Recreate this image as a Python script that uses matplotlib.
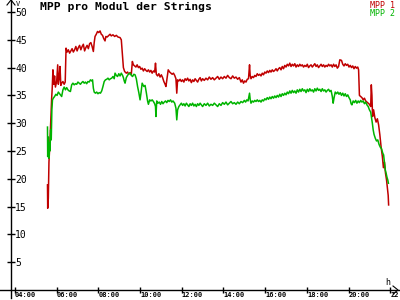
import matplotlib
matplotlib.use("Agg")
import matplotlib.pyplot as plt
from matplotlib.lines import Line2D

# ---- data (time in hours, MPP voltage per module in V) ----
t_mpp1 = [5.56, 5.57, 5.60, 5.63, 5.67, 5.71, 5.74, 5.76, 5.79, 5.82, 5.86, 5.90, 5.94, 6.00, 6.05, 6.08,
          6.12, 6.16, 6.20, 6.24, 6.30, 6.36, 6.41, 6.45, 6.50, 6.56, 6.62, 6.68, 6.74, 6.80, 6.86, 6.92,
          6.98, 7.04, 7.10, 7.16, 7.22, 7.28, 7.34, 7.40, 7.46, 7.52, 7.58, 7.64, 7.70, 7.76, 7.80, 7.84,
          7.90, 7.96, 8.02, 8.08, 8.14, 8.20, 8.26, 8.32, 8.36, 8.42, 8.50, 8.56, 8.62, 8.70, 8.78, 8.86,
          8.94, 9.04, 9.10, 9.15, 9.20, 9.26, 9.34, 9.40, 9.46, 9.52, 9.58, 9.63, 9.68, 9.74, 9.80, 9.86,
          9.92, 9.98, 10.04, 10.10, 10.16, 10.22, 10.28, 10.34, 10.40, 10.46, 10.52, 10.58, 10.64, 10.70,
          10.74, 10.78, 10.84, 10.90, 10.96, 11.02, 11.08, 11.14, 11.20, 11.24, 11.30, 11.35, 11.42, 11.48,
          11.54, 11.60, 11.66, 11.72, 11.76, 11.80, 11.86, 11.92, 11.98,
          12.04, 12.10, 12.16, 12.22, 12.28, 12.34, 12.40, 12.46, 12.52, 12.58, 12.64, 12.70, 12.76, 12.82,
          12.88, 12.94, 13.00, 13.08, 13.16, 13.24, 13.32, 13.40, 13.48, 13.56, 13.64, 13.72, 13.80, 13.88,
          13.96, 14.04, 14.12, 14.20, 14.28, 14.36, 14.44, 14.52, 14.60, 14.68, 14.76, 14.84, 14.90, 14.96,
          15.02, 15.08, 15.14, 15.20, 15.25, 15.28, 15.32, 15.38, 15.44, 15.50, 15.56, 15.62, 15.68, 15.74,
          15.80, 15.86, 15.92, 15.98, 16.04, 16.10, 16.16, 16.22, 16.28, 16.34, 16.40, 16.46, 16.52, 16.58,
          16.64, 16.70, 16.76, 16.82, 16.88, 16.94, 17.00, 17.06, 17.12, 17.18, 17.24, 17.30, 17.36, 17.42,
          17.48, 17.54, 17.60, 17.66, 17.72, 17.78, 17.84, 17.90, 17.96, 18.02, 18.08, 18.14, 18.20, 18.26,
          18.32, 18.38, 18.44, 18.50, 18.56, 18.62, 18.68, 18.74, 18.80, 18.86, 18.92, 18.98, 19.04, 19.10,
          19.16, 19.22, 19.28, 19.34, 19.40, 19.46, 19.52, 19.58, 19.66, 19.72, 19.78, 19.84, 19.90, 19.96,
          20.02, 20.08, 20.14, 20.20, 20.26, 20.32, 20.38, 20.44, 20.48, 20.52, 20.58, 20.64, 20.70, 20.76,
          20.82, 20.88, 20.94, 21.00, 21.06, 21.09, 21.12, 21.15, 21.20, 21.26, 21.32, 21.38, 21.44, 21.50,
          21.56, 21.62, 21.67, 21.72, 21.77, 21.82, 21.86, 21.90, 21.92]
v_mpp1 = [18.9, 14.7, 16.5, 23.0, 26.0, 30.0, 32.7, 34.5, 36.5, 39.6, 37.0, 38.5, 36.5, 37.5, 40.5, 37.0,
          38.0, 40.2, 36.8, 37.2, 37.5, 37.0, 37.4, 43.5, 42.8, 43.2, 42.6, 43.0, 43.4, 42.8, 43.2, 43.8,
          43.0, 43.6, 44.0, 43.2, 43.8, 44.2, 43.0, 43.6, 44.0, 43.4, 44.3, 44.5, 43.8, 42.9, 44.5, 45.6,
          46.0, 46.5, 46.3, 46.6, 46.0, 45.8, 45.2, 44.8, 45.6, 45.5, 45.8, 46.0, 45.7, 45.9, 45.6, 45.8,
          45.5, 45.4, 45.0, 42.6, 40.0, 39.3, 39.0, 39.2, 38.8, 39.1, 38.8, 41.1, 40.5, 40.3, 40.1, 40.5,
          40.0, 40.2, 39.7, 39.9, 39.4, 39.8, 39.5, 39.3, 39.6, 39.2, 39.5, 39.0, 39.4, 39.2,
          40.8, 38.8, 38.5, 38.9, 38.3, 38.7, 38.2, 37.5, 37.0, 36.6, 38.2, 39.6, 39.2, 39.0,
          38.8, 39.0, 38.6, 38.0, 35.4, 37.8, 37.6, 37.9, 37.5,
          37.8, 37.4, 38.0, 37.7, 38.1, 37.6, 37.9, 37.3, 37.8, 37.5, 38.0, 37.7, 37.4, 37.9,
          38.2, 37.6, 38.0, 37.7, 38.1, 37.8, 38.3, 37.9, 38.2, 37.8, 38.1, 38.4, 37.9, 38.3,
          38.0, 38.4, 38.1, 38.6, 38.2, 38.0, 38.5, 38.1, 38.3, 37.9, 38.2, 37.4, 37.8, 37.2,
          37.6, 37.4, 37.9, 38.0, 40.5, 38.6, 38.0, 38.4, 38.2, 38.6, 38.4, 38.9, 38.6, 38.8,
          38.5, 39.0, 38.7, 39.2, 39.0, 39.4, 39.1, 39.5, 39.2, 39.6, 39.3, 39.5, 39.8, 39.4,
          39.8, 40.0, 39.6, 40.2, 39.8, 40.4, 40.1, 40.6, 40.3, 40.8, 40.2, 40.6, 40.3, 40.7,
          40.1, 40.5, 40.2, 40.6, 40.3, 40.5, 40.1, 40.4, 40.2, 40.6, 40.0, 40.3, 40.5, 40.1,
          40.4, 40.7, 40.2, 40.5, 40.0, 40.3, 40.6, 40.2, 40.5, 40.1, 40.4, 40.2, 40.6, 40.3,
          40.5, 40.1, 40.6, 40.2, 40.5, 39.9, 40.2, 41.4, 41.3, 40.6, 40.3, 40.7, 40.4, 40.6,
          40.1, 40.4, 40.0, 40.3, 39.8, 40.2, 39.9, 40.1, 39.6, 35.0, 34.8, 34.6, 34.2, 34.5,
          34.0, 33.8, 33.6, 33.4, 33.0, 36.9, 35.0, 31.2, 32.4, 31.0, 30.2, 30.8, 29.7, 27.9,
          25.7, 24.0, 22.0, 23.0, 21.0, 19.8, 18.3, 17.0, 15.3]

t_mpp2 = [5.56, 5.57, 5.60, 5.62, 5.65, 5.68, 5.71, 5.74, 5.77, 5.80, 5.84, 5.90, 5.96, 6.02, 6.08, 6.14,
          6.20, 6.24, 6.30, 6.36, 6.42, 6.48, 6.54, 6.60, 6.66, 6.72, 6.78, 6.84, 6.90, 6.96, 7.02, 7.08,
          7.14, 7.20, 7.26, 7.32, 7.38, 7.44, 7.50, 7.56, 7.62, 7.68, 7.72, 7.76, 7.80, 7.86, 7.92, 7.98,
          8.04, 8.10, 8.16, 8.22, 8.28, 8.34, 8.40, 8.46, 8.52, 8.58, 8.64, 8.70, 8.76, 8.80, 8.86, 8.92,
          8.98, 9.04, 9.10, 9.16, 9.20, 9.24, 9.28, 9.34, 9.40, 9.46, 9.52, 9.58, 9.64, 9.70, 9.76, 9.82,
          9.88, 9.94, 10.00, 10.05, 10.10, 10.18, 10.24, 10.30, 10.36, 10.40, 10.46, 10.52, 10.58, 10.64,
          10.70, 10.74, 10.76, 10.80, 10.86, 10.92, 10.98, 11.04, 11.10, 11.16, 11.22, 11.28, 11.34, 11.40,
          11.46, 11.52, 11.58, 11.66, 11.72, 11.76, 11.80, 11.86, 11.92, 11.98,
          12.04, 12.10, 12.16, 12.22, 12.28, 12.34, 12.40, 12.46, 12.52, 12.58, 12.64, 12.70, 12.76, 12.82,
          12.88, 12.94, 13.00, 13.08, 13.16, 13.24, 13.32, 13.40, 13.48, 13.56, 13.64, 13.72, 13.80, 13.88,
          13.96, 14.04, 14.12, 14.20, 14.28, 14.36, 14.44, 14.52, 14.60, 14.68, 14.76, 14.84, 14.92, 15.00,
          15.06, 15.12, 15.18, 15.25, 15.28, 15.32, 15.38, 15.44, 15.50, 15.56, 15.62, 15.68, 15.74, 15.80,
          15.86, 15.92, 15.98, 16.04, 16.10, 16.16, 16.22, 16.28, 16.34, 16.40, 16.46, 16.52, 16.58, 16.64,
          16.70, 16.76, 16.82, 16.88, 16.94, 17.00, 17.06, 17.12, 17.18, 17.24, 17.30, 17.36, 17.42, 17.48,
          17.54, 17.60, 17.66, 17.72, 17.78, 17.84, 17.90, 17.96, 18.02, 18.08, 18.14, 18.20, 18.26, 18.32,
          18.38, 18.44, 18.50, 18.56, 18.62, 18.68, 18.74, 18.80, 18.86, 18.92, 18.98, 19.04, 19.10, 19.16,
          19.22, 19.26, 19.30, 19.36, 19.42, 19.48, 19.54, 19.60, 19.66, 19.72, 19.78, 19.84, 19.90, 19.96,
          20.02, 20.08, 20.12, 20.16, 20.22, 20.28, 20.34, 20.40, 20.46, 20.52, 20.58, 20.64, 20.70, 20.76,
          20.82, 20.88, 20.94, 21.00, 21.06, 21.10, 21.14, 21.18, 21.22, 21.28, 21.34, 21.40, 21.46, 21.52,
          21.58, 21.64, 21.68, 21.72, 21.76, 21.80, 21.84, 21.88, 21.91]
v_mpp2 = [29.3, 24.0, 27.5, 23.7, 26.5, 25.0, 28.8, 27.0, 32.4, 34.2, 34.5, 34.8, 35.2, 35.0, 35.6, 35.3,
          35.0, 34.8, 36.0, 36.5, 36.0, 36.4, 36.0, 35.8, 35.7, 36.9, 37.2, 36.9, 37.1, 37.0, 37.4, 37.2,
          37.0, 37.3, 37.5, 37.2, 37.4, 37.1, 37.5, 37.4, 37.8, 37.6, 37.8, 36.3, 35.6, 35.4, 35.6, 35.3,
          35.5, 35.4, 35.8, 36.6, 37.5, 37.8, 37.9, 38.1, 37.8, 38.0, 38.1, 38.4, 38.0, 39.0, 38.6, 38.4,
          38.9, 38.5, 39.0, 38.6, 38.2, 37.6, 37.2, 38.2, 38.6, 38.9, 39.0, 38.6, 38.4, 38.8, 38.7, 38.0,
          36.6, 35.5, 34.2, 35.6, 37.2, 36.6, 36.8, 35.5, 34.0, 33.4, 34.2, 34.0, 34.2, 33.9,
          33.5, 33.0, 31.2, 34.0, 33.6, 33.8, 33.4, 33.9, 33.5, 33.8, 34.0, 33.7, 34.1, 33.9,
          34.2, 33.8, 34.0, 33.6, 32.7, 30.6, 32.4, 33.0, 33.3, 33.6,
          33.2, 33.5, 33.1, 33.6, 33.3, 33.0, 33.5, 33.2, 33.6, 33.1, 33.4, 33.0, 33.5, 33.2,
          33.6, 33.3, 33.0, 33.5, 33.2, 33.6, 33.1, 33.4, 33.2, 33.6, 33.3, 33.0, 33.5, 33.2,
          33.7, 33.4, 33.8, 33.3, 33.6, 33.9, 33.5, 33.7, 33.4, 33.8, 33.5, 33.9, 33.7, 34.1,
          33.8, 34.2, 34.0, 35.4, 34.3, 33.6, 34.0, 33.8, 34.1, 33.9, 34.2, 33.9, 34.1, 33.8,
          34.2, 34.0, 34.4, 34.2, 34.6, 34.3, 34.7, 34.4, 34.8, 34.5, 34.9, 34.6, 35.0, 34.7,
          35.2, 34.8, 35.3, 35.0, 35.4, 35.1, 35.6, 35.3, 35.8, 35.4, 35.9, 35.5, 35.8, 35.4,
          36.0, 35.6, 36.1, 35.7, 36.2, 35.8, 36.0, 35.5, 36.1, 35.7, 36.2, 35.8, 36.0, 35.6,
          36.2, 35.8, 36.3, 35.9, 36.1, 35.7, 36.2, 35.8, 36.0, 35.6, 35.9, 36.1, 35.7, 35.9,
          34.8, 33.6, 34.5, 35.6, 35.3, 35.6, 35.2, 35.5, 35.0, 35.4, 34.9, 35.3, 34.8, 35.1,
          34.6, 34.2, 33.5, 33.3, 34.0, 33.7, 34.1, 33.6, 34.0, 33.7, 34.1, 33.8, 34.0, 33.5,
          33.8, 33.3, 33.0, 32.4, 32.0, 31.0, 30.0, 28.8, 28.0, 27.3, 26.8, 27.0, 26.2, 25.7,
          25.4, 24.6, 24.3, 23.0, 21.6, 21.0, 20.3, 19.8, 19.2]

y_ticks = [5, 10, 15, 20, 25, 30, 35, 40, 45, 50]
x_ticks = [4, 6, 8, 10, 12, 14, 16, 18, 20, 22]
x_labels = ["04:00", "06:00", "08:00", "10:00", "12:00", "14:00", "16:00", "18:00", "20:00", "22:00"]

RED = "#c00000"
GREEN = "#00b400"
MONO = "DejaVu Sans Mono"

W, H = 400, 300
fig = plt.figure(figsize=(4, 3), dpi=100)
fig.patch.set_facecolor("white")

# axes placed so that the origin sits at pixel (11, 290)
x0, y0, x1, y1 = 11, 290, 398, 12
ax = fig.add_axes([x0 / W, (H - y0) / H, (x1 - x0) / W, (y0 - y1) / H])
ax.set_xlim(3.81, 22.37)
ax.set_ylim(0, 50)

ax.plot(t_mpp1, v_mpp1, color=RED, lw=1.1)
ax.plot(t_mpp2, v_mpp2, color=GREEN, lw=1.1)

for s in ("top", "right", "left", "bottom"):
    ax.spines[s].set_visible(False)

ax.set_yticks(y_ticks)
ax.set_yticklabels([str(v) for v in y_ticks], fontsize=7, family=MONO)
ax.tick_params(axis="y", direction="inout", length=6, width=1, pad=-6)
for lab in ax.get_yticklabels():
    lab.set_horizontalalignment("left")

ax.set_xticks(x_ticks)
ax.set_xticklabels(x_labels, fontsize=5, family=MONO, weight="bold")
ax.tick_params(axis="x", direction="inout", length=4, width=1, pad=-0.8)
for lab in ax.get_xticklabels():
    lab.set_horizontalalignment("left")

# axis lines extending past the origin, with arrow heads
fig.add_artist(Line2D([0, 1], [(H - y0) / H] * 2, color="black", lw=1))
fig.add_artist(Line2D([x0 / W] * 2, [(H - 298) / H, 1], color="black", lw=1))
fig.add_artist(Line2D([393 / W, 398 / W, 393 / W],
                      [(H - 286) / H, (H - y0) / H, (H - 294) / H], color="black", lw=0.8))
fig.add_artist(Line2D([7 / W, x0 / W, 15 / W],
                      [(H - 5) / H, 1, (H - 5) / H], color="black", lw=0.8))

fig.text(16 / W, 1 - 1 / H, "V", fontsize=5, family=MONO, ha="left", va="top")
fig.text(385 / W, 1 - 278 / H, "h", fontsize=6, family=MONO, ha="left", va="top")

fig.text(40 / W, 1 - 2 / H, "MPP pro Modul der Strings", fontsize=8.2, family=MONO,
         weight="bold", ha="left", va="top")
fig.text(395 / W, 1 - 1 / H, "MPP 1", fontsize=6, family=MONO, color=RED, ha="right", va="top")
fig.text(395 / W, 1 - 9 / H, "MPP 2", fontsize=6, family=MONO, color=GREEN, ha="right", va="top")

fig.savefig("out.png", dpi=100)
